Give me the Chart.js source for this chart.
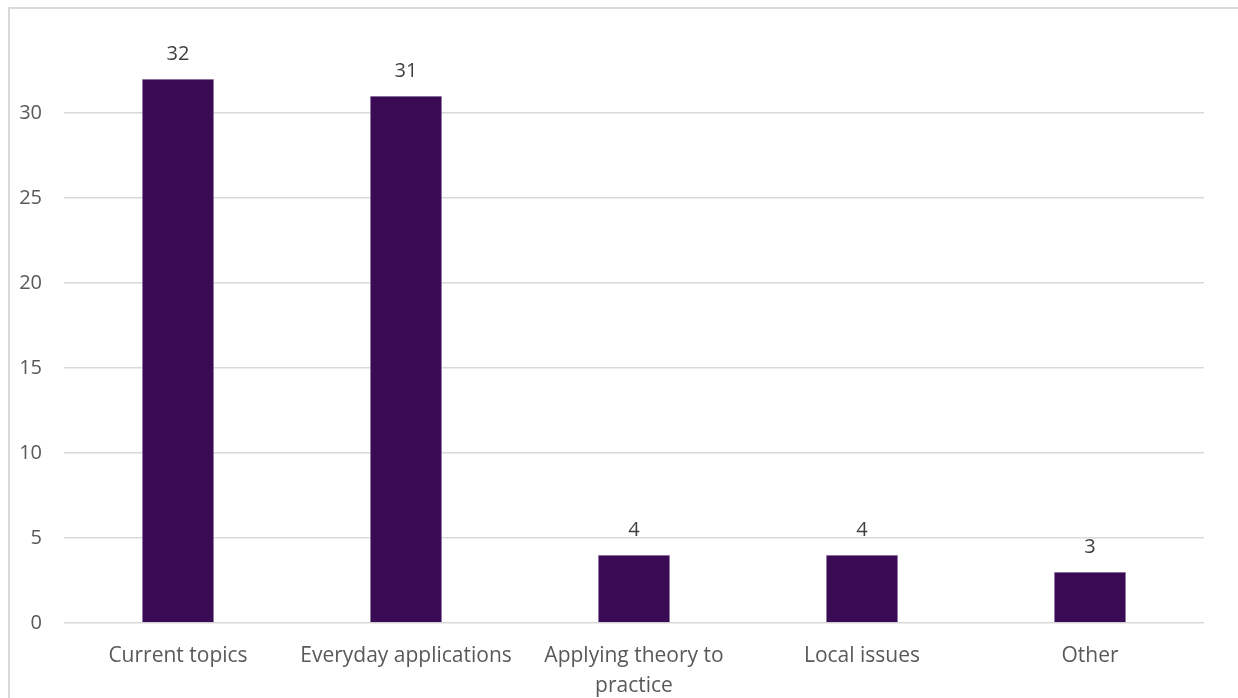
<!DOCTYPE html>
<html lang="en">
<head>
    <meta charset="UTF-8">
    <title>Chart</title>
    <script src="https://cdn.jsdelivr.net/npm/chart.js"></script>
    <style>
        html, body { margin: 0; padding: 0; background: #fff; overflow: hidden; }
        .moldura {
            position: absolute; left: 8px; top: 7px; width: 1240px; height: 700px;
            border: 2px solid #d9d9d9; box-sizing: border-box;
        }
        .grafico { position: absolute; left: 0; top: 0; width: 1238px; height: 698px; }
    </style>
</head>
<body>
    <div class="moldura"></div>
    <div class="grafico"><canvas id="chartBar"></canvas></div>
</body>
</html>
<script>
    const categorias = ['Current topics', 'Everyday applications', ['Applying theory to', 'practice'], 'Local issues', 'Other']
    const valores = [32, 31, 4, 4, 3]
    const ticksY = [0, 5, 10, 15, 20, 25, 30]

    const corBarra = '#3a0a55'
    const corTexto = '#595959'
    const fonte = 'Open Sans'

    // escreve o valor em cima de cada barra
    const rotulos = {
        id: 'rotulos',
        afterDatasetsDraw(chart) {
            const ctx = chart.ctx
            const meta = chart.getDatasetMeta(0)
            ctx.save()
            ctx.font = `20px "${fonte}"`
            ctx.fillStyle = '#404040'
            ctx.textAlign = 'center'
            ctx.textBaseline = 'middle'
            meta.data.forEach((barra, i) => {
                ctx.fillText(valores[i], barra.x, barra.y - 25)
            })
            ctx.restore()
        }
    }

    const ctx = document.getElementById('chartBar')

    const chart1 = new Chart(ctx, {
        type: 'bar',
        data: {
            labels: categorias,
            datasets: [{
                data: valores,
                backgroundColor: corBarra,
                borderColor: '#b9a8c8',
                borderWidth: 0.6,
                categoryPercentage: 1,
                barPercentage: 0.316
            }]
        },
        plugins: [rotulos],
        options: {
            responsive: true,
            maintainAspectRatio: false,
            animation: false,
            layout: { padding: { top: 28, right: 34, left: 0, bottom: 0 } },
            plugins: {
                legend: { display: false },
                tooltip: { enabled: false }
            },
            scales: {
                y: {
                    min: 0,
                    max: 35,
                    afterFit: (s) => { s.width = 64; s.paddingTop = 0; s.paddingBottom = 0 },
                    afterBuildTicks: (s) => { s.ticks = ticksY.concat([35]).map(v => ({ value: v })) },
                    border: { display: false },
                    grid: {
                        drawTicks: false,
                        color: (c) => c.tick && c.tick.value === 35 ? 'rgba(0,0,0,0)' : '#d9d9d9',
                        lineWidth: 1.5
                    },
                    ticks: {
                        padding: 22,
                        color: corTexto,
                        font: { family: fonte, size: 20 },
                        callback: (v) => v === 35 ? '' : v
                    }
                },
                x: {
                    afterFit: (s) => { s.height = 75; s.paddingLeft = 0; s.paddingRight = 0 },
                    border: { display: false },
                    grid: { display: false, drawTicks: false },
                    ticks: {
                        padding: 18,
                        maxRotation: 0,
                        autoSkip: false,
                        color: corTexto,
                        font: { family: fonte, size: 21, lineHeight: 1.43 }
                    }
                }
            }
        }
    })
</script>
